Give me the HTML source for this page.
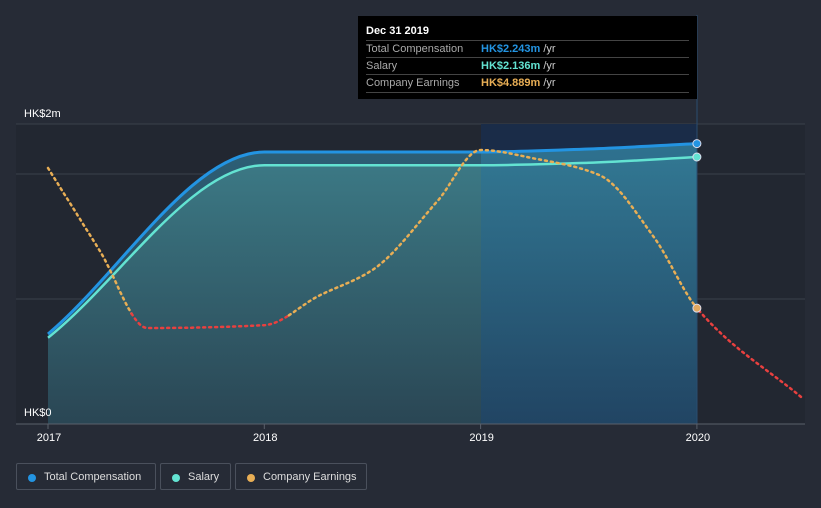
<!DOCTYPE html>
<html><head><meta charset="utf-8"><style>
html,body{margin:0;padding:0;background:#262b36;}
body{width:821px;height:508px;overflow:hidden;position:relative;font-family:"Liberation Sans",sans-serif;}
svg{position:absolute;left:0;top:0;}
.tt{position:absolute;left:358px;top:16px;width:339px;height:83px;background:#000;color:#fff;font-size:11px;}
.tt .h{position:absolute;left:8px;top:9px;font-weight:bold;font-size:11px;}
.tt .r{position:absolute;left:8px;width:323px;height:17px;border-top:1px solid #444;line-height:16px;}
.tt .r span.l{color:#aaa;}
.tt .r span.v{position:absolute;left:115px;font-weight:bold;}
.tt .r span.u{color:#ccc;font-weight:normal;}
.leg{position:absolute;top:463px;height:27px;border:1px solid #4a505c;border-radius:2px;color:#ddd;font-size:11px;line-height:27px;box-sizing:border-box;}
.leg i{position:absolute;left:11px;top:10px;width:8px;height:8px;border-radius:50%;}
.leg span{position:absolute;left:27px;}
</style></head><body>
<svg id="chart" width="821" height="508">
<defs>
<linearGradient id="gTot" x1="0" y1="0" x2="0" y2="1"><stop offset="0" stop-color="#2d6077"/><stop offset="1" stop-color="#263d4c"/></linearGradient>
<linearGradient id="gSal" x1="0" y1="0" x2="0" y2="1"><stop offset="0" stop-color="#3c7a86"/><stop offset="1" stop-color="#2a4654"/></linearGradient>
<linearGradient id="gHi" x1="0" y1="0" x2="0" y2="1"><stop offset="0" stop-color="#2f7898"/><stop offset="1" stop-color="#1e4468"/></linearGradient>
<clipPath id="hiClip"><rect x="481" y="0" width="216" height="424"/></clipPath>
</defs>
<rect x="16" y="124" width="789" height="300" fill="#222731"/>
<g id="grid"></g>
<g id="areas"></g>
<g id="lines"></g>
<g id="axes"></g>
</svg>
<div class="tt">
<div class="h">Dec 31 2019</div>
<div class="r" style="top:24px"><span class="l">Total Compensation</span><span class="v" style="color:#2394e2">HK$2.243m <span class="u">/yr</span></span></div>
<div class="r" style="top:41px"><span class="l">Salary</span><span class="v" style="color:#63e3d2">HK$2.136m <span class="u">/yr</span></span></div>
<div class="r" style="top:58px;border-bottom:1px solid #444"><span class="l">Company Earnings</span><span class="v" style="color:#e8ae55">HK$4.889m <span class="u">/yr</span></span></div>
</div>
<div class="leg" style="left:16px;width:140px"><i style="background:#2394e2"></i><span>Total Compensation</span></div>
<div class="leg" style="left:160px;width:71px"><i style="background:#63e3d2"></i><span>Salary</span></div>
<div class="leg" style="left:235px;width:132px"><i style="background:#e8ae55"></i><span>Company Earnings</span></div>
<script>
const compYears=[2017,2018,2019,2019.5,2020];
const totalComp=[0.72,2.176,2.176,2.2,2.243];
const salary=[0.69,2.07,2.07,2.09,2.136];
const earnYears=[2017,2017.24,2017.46,2018,2018.25,2018.5,2018.8,2019,2019.25,2019.55,2019.8,2020,2020.5];
const earnings=[10.8,7.3,4.05,4.17,5.4,6.5,9.4,11.56,11.2,10.5,7.9,4.889,1.0];
const xTicks=[2017,2018,2019,2020];
const yTickLabels=["HK$0","HK$2m"];
const NS="http://www.w3.org/2000/svg";
const X=y=>48+(y-2017)*216.3;
const Y=v=>424-v*125;
const YE=v=>424-v*23.7;
function mk(t,a,p){const e=document.createElementNS(NS,t);for(const k in a)e.setAttribute(k,a[k]);p.appendChild(e);return e;}
function mono(xs,ys){const n=xs.length,d=[],m=[];for(let i=0;i<n-1;i++)d.push((ys[i+1]-ys[i])/(xs[i+1]-xs[i]));
m[0]=d[0];m[n-1]=d[n-2];
for(let i=1;i<n-1;i++){if(d[i-1]*d[i]<=0)m[i]=0;else{const h0=xs[i]-xs[i-1],h1=xs[i+1]-xs[i];m[i]=3*(h0+h1)/((2*h1+h0)/d[i-1]+(h1+2*h0)/d[i]);}}
let s="M"+xs[0]+","+ys[0];for(let i=0;i<n-1;i++){const h=(xs[i+1]-xs[i])/3;s+=" C"+(xs[i]+h)+","+(ys[i]+m[i]*h)+" "+(xs[i+1]-h)+","+(ys[i+1]-m[i+1]*h)+" "+xs[i+1]+","+ys[i+1];}return s;}
const grid=document.getElementById('grid'),areas=document.getElementById('areas'),lines=document.getElementById('lines'),axes=document.getElementById('axes');
[124,Y(2),Y(1)].forEach(y=>{const g=mk('line',{x1:16,x2:805,y1:y,y2:y,stroke:'#3a404b','stroke-width':1},grid);

});
const cx=compYears.map(X),ty=totalComp.map(Y),sy=salary.map(Y);
const tp=mono(cx,ty),sp=mono(cx,sy);
const close=" L"+cx[cx.length-1]+",424 L"+cx[0]+",424 Z";
const hi=mk('rect',{x:481,y:124,width:216,height:300,fill:'#1a2c48'},areas);


const at=mk('path',{d:tp+close,fill:'url(#gTot)'},areas);


const as=mk('path',{d:sp+close,fill:'url(#gSal)'},areas);


const ah=mk('path',{d:tp+close,fill:'url(#gHi)','clip-path':'url(#hiClip)',opacity:0.75},areas);


const vl=mk('line',{x1:697,x2:697,y1:15,y2:424,stroke:'#2a4d70','stroke-width':1},areas);


const lt=mk('path',{d:tp,fill:'none',stroke:'#2394e2','stroke-width':3},lines);


const ls=mk('path',{d:sp,fill:'none',stroke:'#63e3d2','stroke-width':2.5},lines);


const ex=earnYears.map(X),ey=earnings.map(YE);
const ep=mono(ex,ey);
const tmp=mk('path',{d:ep,fill:'none'},lines);
const L=tmp.getTotalLength();
let pts=[];for(let l=0;l<=L;l+=2)pts.push(tmp.getPointAtLength(l));
lines.removeChild(tmp);
let seg=[],col=null;const thr=YE(4.6);
function flush(){if(seg.length>1){const e=mk('polyline',{points:seg.map(p=>p.x.toFixed(1)+','+p.y.toFixed(1)).join(' '),fill:'none',stroke:col,'stroke-width':2.5,'stroke-dasharray':'2 4','stroke-linecap':'round'},lines);

}}
pts.forEach(p=>{const c=(p.y>thr||p.x>700)?'#e8403f':'#e8ae55';if(c!==col){flush();seg=seg.length?[seg[seg.length-1]]:[];col=c;}seg.push(p);});flush();
const last=compYears.length-1;
[[cx[last],ty[last],'#2394e2','total-compensation-point'],[cx[last],sy[last],'#63e3d2','salary-point'],[X(2020),YE(4.889),'#e0a860','earnings-point']].forEach(d=>{
const c=mk('circle',{cx:d[0],cy:d[1],r:4,fill:d[2],stroke:'#dde',"stroke-width":1},lines);

});
const ax=mk('line',{x1:16,x2:805,y1:424,y2:424,stroke:'#5a606b','stroke-width':1},axes);


xTicks.forEach(t=>{const tk=mk('line',{x1:X(t),x2:X(t),y1:424,y2:429,stroke:'#5a606b'},axes);


const tx=mk('text',{x:X(t)+1,y:441,fill:'#fff','font-size':11,'text-anchor':'middle','font-family':'Liberation Sans'},axes);
tx.textContent=t;

});
[[yTickLabels[0],416],[yTickLabels[1],117]].forEach(d=>{const tx=mk('text',{x:24,y:d[1],fill:'#fff','font-size':11,'font-family':'Liberation Sans'},axes);
tx.textContent=d[0];

});
</script>
</body></html>
